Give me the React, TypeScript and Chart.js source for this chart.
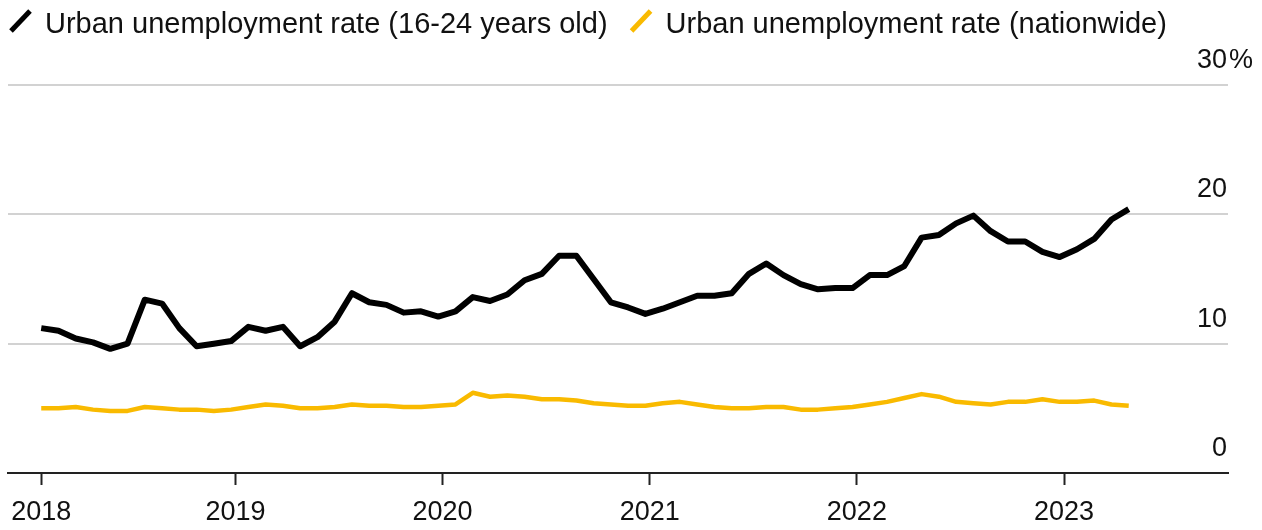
import React, { useEffect, useRef } from "react";
import { Chart, registerables } from "chart.js";

Chart.register(...registerables);

// ---- Data (monthly, Jan 2018 – Apr 2023) ----
const YEARS = ["2018", "2019", "2020", "2021", "2022", "2023"];

const YOUTH_RATE = [
  // 2018
  11.2, 11.0, 10.4, 10.1, 9.6, 10.0, 13.4, 13.1, 11.2, 9.8, 10.0, 10.2,
  // 2019
  11.3, 11.0, 11.3, 9.8, 10.5, 11.7, 13.9, 13.2, 13.0, 12.4, 12.5, 12.1,
  // 2020
  12.5, 13.6, 13.3, 13.8, 14.9, 15.4, 16.8, 16.8, 15.0, 13.2, 12.8, 12.3,
  // 2021
  12.7, 13.2, 13.7, 13.7, 13.9, 15.4, 16.2, 15.3, 14.6, 14.2, 14.3, 14.3,
  // 2022
  15.3, 15.3, 16.0, 18.2, 18.4, 19.3, 19.9, 18.7, 17.9, 17.9, 17.1, 16.7,
  // 2023
  17.3, 18.1, 19.6, 20.4,
];

const NATIONWIDE_RATE = [
  // 2018
  5.0, 5.0, 5.1, 4.9, 4.8, 4.8, 5.1, 5.0, 4.9, 4.9, 4.8, 4.9,
  // 2019
  5.1, 5.3, 5.2, 5.0, 5.0, 5.1, 5.3, 5.2, 5.2, 5.1, 5.1, 5.2,
  // 2020
  5.3, 6.2, 5.9, 6.0, 5.9, 5.7, 5.7, 5.6, 5.4, 5.3, 5.2, 5.2,
  // 2021
  5.4, 5.5, 5.3, 5.1, 5.0, 5.0, 5.1, 5.1, 4.9, 4.9, 5.0, 5.1,
  // 2022
  5.3, 5.5, 5.8, 6.1, 5.9, 5.5, 5.4, 5.3, 5.5, 5.5, 5.7, 5.5,
  // 2023
  5.5, 5.6, 5.3, 5.2,
];

const Y_TICKS = [0, 10, 20, 30];
const LEGEND_LABELS = [
  "Urban unemployment rate (16-24 years old)",
  "Urban unemployment rate (nationwide)",
];

// ---- Styling ----
const BLACK = "#000000";
const YELLOW = "#F9BA00";
const TEXT = "#111111";
const GRID = "#d2d2d2";
const AXIS = "#222222";
const FONT = '"Liberation Sans", Arial, Helvetica, sans-serif';
const POINT_OFFSET = 0.75; // point sits late in its month (months since Jan 1 2018)

const toPoints = (arr: number[]) =>
  arr.map((v, i) => ({ x: i + POINT_OFFSET, y: v }));

const legendPlugin = {
  id: "customLegend",
  afterDraw(chart: any) {
    const { ctx } = chart;
    ctx.save();
    ctx.font = `29px ${FONT}`;
    ctx.textBaseline = "alphabetic";
    ctx.textAlign = "left";
    const colors = [BLACK, YELLOW];
    let x = 10;
    LEGEND_LABELS.forEach((label, i) => {
      ctx.strokeStyle = colors[i];
      ctx.lineWidth = 5;
      ctx.lineCap = "butt";
      ctx.beginPath();
      ctx.moveTo(x + 1, 31);
      ctx.lineTo(x + 20, 11);
      ctx.stroke();
      ctx.fillStyle = TEXT;
      const tx = x + 35;
      ctx.fillText(label, tx, 33);
      x = tx + ctx.measureText(label).width + 23;
    });
    ctx.restore();
  },
};

const yLabelPlugin = {
  id: "yLabels",
  afterDraw(chart: any) {
    const { ctx, chartArea } = chart;
    const y = chart.scales.y;
    ctx.save();
    ctx.font = `27px ${FONT}`;
    ctx.fillStyle = TEXT;
    ctx.textBaseline = "alphabetic";
    Y_TICKS.forEach((v, idx) => {
      const py = y.getPixelForValue(v) - 17;
      ctx.textAlign = "right";
      ctx.fillText(String(v), chartArea.right - 1, py);
      if (idx === Y_TICKS.length - 1) {
        ctx.textAlign = "left";
        ctx.fillText("%", chartArea.right + 1, py);
      }
    });
    ctx.restore();
  },
};

export default function App() {
  const canvasRef = useRef<HTMLCanvasElement | null>(null);

  useEffect(() => {
    document.body.style.margin = "0";
    const canvas = canvasRef.current;
    if (!canvas) return;
    const chart = new Chart(canvas, {
      type: "line",
      data: {
        datasets: [
          {
            label: LEGEND_LABELS[1],
            data: toPoints(NATIONWIDE_RATE),
            borderColor: YELLOW,
            borderWidth: 4.5,
            borderJoinStyle: "round",
            pointRadius: 0,
            tension: 0,
            fill: false,
          },
          {
            label: LEGEND_LABELS[0],
            data: toPoints(YOUTH_RATE),
            borderColor: BLACK,
            borderWidth: 6,
            borderJoinStyle: "round",
            pointRadius: 0,
            tension: 0,
            fill: false,
          },
        ],
      },
      options: {
        animation: false,
        responsive: false,
        devicePixelRatio: 1,
        layout: { padding: { left: 7, right: 34, top: 85, bottom: 0 } },
        plugins: {
          legend: { display: false },
          tooltip: { enabled: false },
          title: { display: false },
        },
        scales: {
          x: {
            type: "linear",
            min: -1.2,
            max: 69.5,
            afterFit: (scale: any) => {
              scale.height = 57;
            },
            afterBuildTicks: (scale: any) => {
              scale.ticks = YEARS.map((_, k) => ({
                value: Math.max(12 * k, POINT_OFFSET),
              }));
            },
            ticks: {
              autoSkip: false,
              maxRotation: 0,
              padding: 11,
              color: TEXT,
              font: { family: FONT, size: 27, lineHeight: 1.2 },
              callback: (_v: any, index: number) => YEARS[index],
            },
            grid: {
              display: true,
              drawOnChartArea: false,
              drawTicks: true,
              tickLength: 12,
              tickColor: AXIS,
              tickWidth: 2,
            },
            border: { display: true, color: AXIS, width: 2 },
          },
          y: {
            type: "linear",
            position: "left",
            min: 0,
            max: 30,
            afterFit: (scale: any) => {
              scale.width = 0;
            },
            afterBuildTicks: (scale: any) => {
              scale.ticks = Y_TICKS.map((v) => ({ value: v }));
            },
            ticks: { display: false },
            grid: {
              drawTicks: false,
              lineWidth: 2,
              color: (c: any) =>
                c.tick && c.tick.value === 0 ? "rgba(0,0,0,0)" : GRID,
            },
            border: { display: false },
          },
        },
      },
      plugins: [legendPlugin, yLabelPlugin],
    });
    return () => chart.destroy();
  }, []);

  return (
    <div style={{ width: 1262, height: 530, background: "#fff" }}>
      <canvas
        ref={canvasRef}
        width={1262}
        height={530}
        style={{ display: "block", width: 1262, height: 530 }}
      />
    </div>
  );
}
